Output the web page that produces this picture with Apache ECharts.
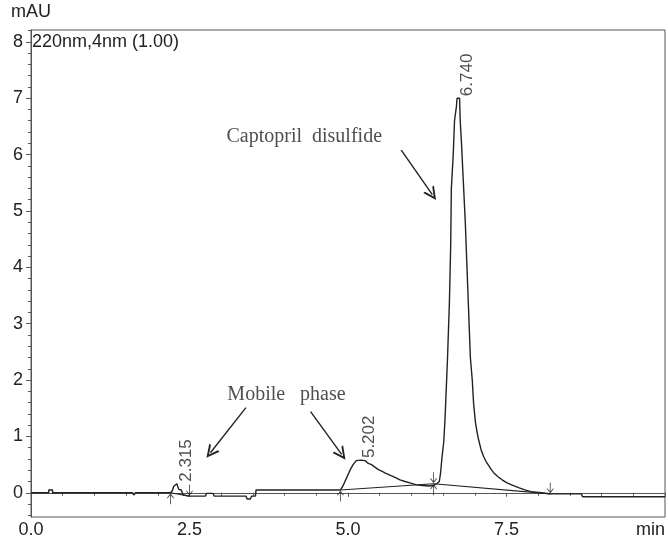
<!DOCTYPE html>
<html>
<head>
<meta charset="utf-8">
<script src="https://cdn.jsdelivr.net/npm/echarts@6/dist/echarts.min.js"></script>
<style>
html, body { margin: 0; padding: 0; background: #fff; }
#main { width: 668px; height: 539px; }
</style>
</head>
<body>
<div id="main"></div>
<script>
// chromatogram trace, time in min / absorbance in mAU
var times = [0.00, 0.28, 0.28, 0.34, 0.34, 1.60, 1.62, 1.65, 2.20, 2.23, 2.25, 2.28, 2.30, 2.32, 2.33, 2.37, 2.40, 2.50,
	2.75, 2.77, 2.87, 2.89, 3.39, 3.41, 3.46, 3.48, 3.54, 3.55, 4.88, 4.92, 4.96, 5.00, 5.04, 5.08, 5.13, 5.20, 5.27,
	5.32, 5.37, 5.43, 5.48, 5.54, 5.59, 5.67, 5.75, 5.82, 5.90, 5.99, 6.08, 6.18, 6.27, 6.35, 6.40, 6.44, 6.46, 6.48,
	6.51, 6.53, 6.55, 6.57, 6.60, 6.62, 6.63, 6.66, 6.68, 6.71, 6.72, 6.76, 6.77, 6.79, 6.82, 6.85, 6.87, 6.89, 6.91,
	6.93, 6.96, 6.98, 7.01, 7.04, 7.06, 7.10, 7.14, 7.18, 7.22, 7.26, 7.31, 7.37, 7.43, 7.50, 7.60, 7.69, 7.79, 7.89,
	8.05, 8.19, 8.68, 8.70, 10.0];
var mAU = [0.00, 0.00, 0.05, 0.05, 0.00, 0.00, -0.04, 0.00, 0.00, 0.04, 0.11, 0.12, 0.16, 0.15, 0.06, 0.05, -0.04, -0.06,
	-0.06, -0.01, -0.01, -0.06, -0.06, -0.11, -0.11, -0.06, -0.06, 0.05, 0.05, 0.12, 0.22, 0.32, 0.42, 0.50, 0.57, 0.58, 0.57,
	0.52, 0.50, 0.45, 0.41, 0.38, 0.35, 0.31, 0.27, 0.23, 0.20, 0.17, 0.14, 0.13, 0.12, 0.13, 0.16, 0.20, 0.35, 0.60,
	0.90, 1.30, 1.85, 2.40, 3.40, 4.40, 5.40, 6.00, 6.60, 6.85, 7.00, 7.00, 6.60, 6.20, 5.50, 4.80, 4.20, 3.60, 3.00,
	2.40, 2.00, 1.60, 1.25, 1.05, 0.94, 0.76, 0.64, 0.55, 0.48, 0.41, 0.34, 0.28, 0.23, 0.18, 0.13, 0.09, 0.05, 0.02,
	0.00, -0.02, -0.02, -0.07, -0.07];

var peakTimes = [2.315, 5.202, 6.740];
var peakHeights = [0.16, 0.58, 7.00];

// integration baselines and their start/end markers
var baseA = [[2.20, 0.00], [2.50, -0.06]];
var baseB = [[4.88, 0.05], [6.35, 0.16], [8.19, -0.02]];
var startMarks = [[2.20, 0.00], [4.88, 0.05], [6.35, 0.16]];
var endMarks = [[2.50, -0.06], [6.35, 0.16], [8.19, -0.02]];

var xLabels = ['0.0', '2.5', '5.0', '7.5', 'min'];
var yMajor = [0, 1, 2, 3, 4, 5, 6, 7, 8];

// annotations (data coords)
var notes = [
	{ name: 'Captopril  disulfide', value: [4.31, 6.31] },
	{ name: 'Mobile   phase', value: [4.03, 1.74] }
];
var noteArrows = [
	[[5.84, 6.08], [6.33, 5.29]],
	[[3.39, 1.51], [2.83, 0.71]],
	[[4.41, 1.44], [4.90, 0.68]]
];

var yMinor = [];
for (var k = -2; k <= 41; k++) {
	if (k % 5 !== 0) yMinor.push(+(k * 0.2).toFixed(1));
}

var trace = times.map(function (t, i) { return [t, mAU[i]]; });
var peaks = peakTimes.map(function (t, i) { return [t, peakHeights[i], peakTimes[i].toFixed(3)]; });

var ink = '#222';
var font = 'Liberation Sans';
var upArrow = 'path://M5,0 L9,5 L8.3,5.6 L5.5,2.4 L5.5,12 L4.5,12 L4.5,2.4 L1.7,5.6 L1,5 Z';
var downArrow = 'path://M5,12 L9,7 L8.3,6.4 L5.5,9.6 L5.5,0 L4.5,0 L4.5,9.6 L1.7,6.4 L1,7 Z';
var chevron = 'path://M0,10 L5,0 L10,10 L8.4,10 L5,3.2 L1.6,10 Z';

var myChart = echarts.init(document.getElementById('main'));

var option = {
	backgroundColor: '#fff',
	animation: false,
	title: {
		text: '220nm,4nm (1.00)',
		left: 32,
		top: 33,
		padding: 0,
		textStyle: { fontFamily: font, fontSize: 18, fontWeight: 'normal', color: ink }
	},
	grid: {
		left: 31, right: 1, top: 30, bottom: 22,
		show: true, borderColor: '#555', borderWidth: 1
	},
	xAxis: {
		type: 'value',
		min: 0, max: 10, interval: 2.5,
		axisLine: { lineStyle: { color: '#555' } },
		axisTick: { length: 4, lineStyle: { color: '#555' } },
		minorTick: { show: true, splitNumber: 5, length: 3, lineStyle: { color: '#555' } },
		splitLine: { show: false },
		axisLabel: {
			margin: 4,
			fontFamily: font, fontSize: 18, color: ink,
			alignMaxLabel: 'right',
			formatter: function (v) { return xLabels[Math.round(v / 2.5)]; }
		}
	},
	yAxis: [{
		type: 'value',
		min: -0.43, max: 8.21,
		name: 'mAU',
		nameLocation: 'end',
		nameGap: 9,
		nameTextStyle: { fontFamily: font, fontSize: 18, color: ink },
		axisLine: { lineStyle: { color: '#555' } },
		axisTick: { length: 5, customValues: yMajor, lineStyle: { color: '#555' } },
		splitLine: { show: false },
		axisLabel: {
			margin: 8, customValues: yMajor,
			fontFamily: font, fontSize: 18, color: ink
		}
	}, {
		type: 'value',
		min: -0.43, max: 8.21,
		position: 'left',
		axisLine: { show: false },
		axisTick: { show: true, length: 3, customValues: yMinor, lineStyle: { color: '#555' } },
		axisLabel: { show: false },
		splitLine: { show: false }
	}],
	series: [{
		name: 'trace',
		type: 'line',
		data: trace,
		showSymbol: false,
		symbol: 'none',
		lineStyle: { color: ink, width: 1.4 }
	}, {
		name: 'baseA',
		type: 'line',
		data: baseA,
		symbol: 'none',
		lineStyle: { color: ink, width: 1.1 }
	}, {
		name: 'baseB',
		type: 'line',
		data: baseB,
		symbol: 'none',
		lineStyle: { color: ink, width: 1.1 }
	}, {
		name: 'start',
		type: 'scatter',
		data: startMarks,
		symbol: upArrow,
		symbolSize: [7, 11],
		symbolOffset: [0, 6],
		itemStyle: { color: ink }
	}, {
		name: 'end',
		type: 'scatter',
		data: endMarks,
		symbol: downArrow,
		symbolSize: [7, 11],
		symbolOffset: [0, -6],
		itemStyle: { color: ink }
	}, {
		name: 'peaks',
		type: 'scatter',
		data: peaks,
		symbolSize: 0,
		label: {
			show: true,
			position: [9, -2],
			rotate: 90,
			align: 'left',
			verticalAlign: 'middle',
			fontFamily: font, fontSize: 17, color: ink,
			formatter: function (p) { return p.value[2]; }
		}
	}, {
		name: 'notes',
		type: 'scatter',
		data: notes,
		symbolSize: 0,
		label: {
			show: true,
			position: [0, 0],
			align: 'center',
			verticalAlign: 'middle',
			fontFamily: 'Liberation Serif', fontSize: 20, color: ink,
			formatter: function (p) { return p.name; }
		},
		markLine: {
			silent: true,
			symbol: ['none', chevron],
			symbolSize: 13,
			label: { show: false },
			itemStyle: { color: ink },
			lineStyle: { color: ink, width: 1.4, type: 'solid' },
			emphasis: { disabled: true },
			data: noteArrows.map(function (a) {
				return [{ coord: a[0] }, { coord: a[1] }];
			})
		}
	}]
};
myChart.setOption(option);
</script>
</body>
</html>
